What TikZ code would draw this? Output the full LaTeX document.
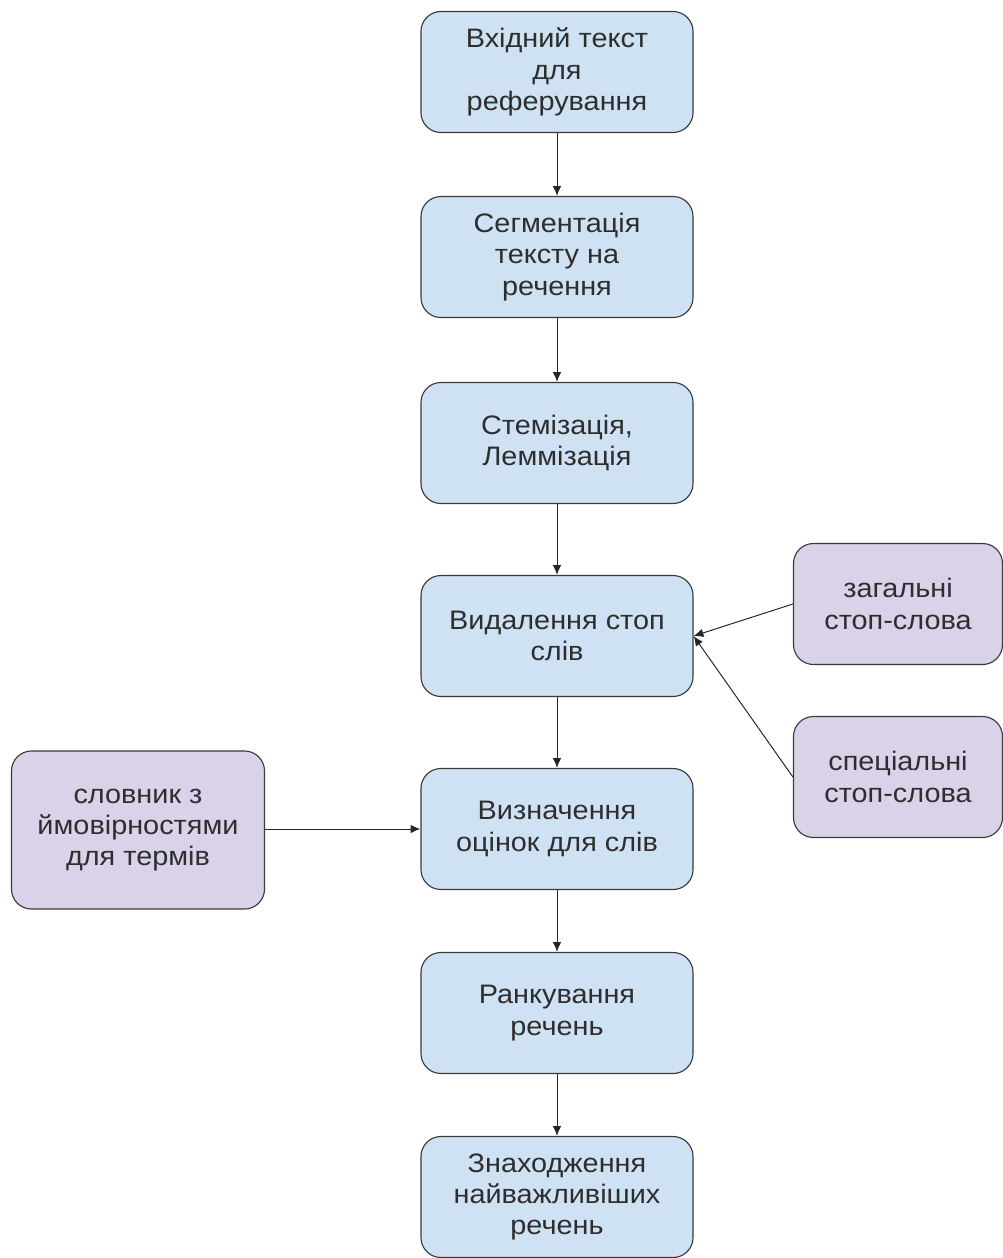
\documentclass[tikz,border=0pt]{standalone}
\usepackage{fontspec}
\setmainfont{Liberation Sans}[FakeStretch=1.08]
\usetikzlibrary{arrows.meta}

\definecolor{stepblue}{HTML}{CFE2F3}
\definecolor{srclilac}{HTML}{D9D2E9}
\definecolor{edgegray}{HTML}{3A3A3A}

\begin{document}
\begin{tikzpicture}[>={Latex[length=7pt,width=6pt]}, % small latex heads
  x=0.025cm, y=-0.025cm,
  stepbox/.style={draw=edgegray, line width=0.8pt, rounded corners=0.5cm,
    fill=stepblue, align=center, font=\fontsize{19}{22.3}\selectfont,
    minimum width=6.8cm, minimum height=3.025cm, text=black!82},
  srcbox/.style={stepbox, fill=srclilac},
  link/.style={->, line width=0.7pt, draw=black!85}]

  \useasboundingbox (0,0) rectangle (1003,1258);

  \node[stepbox](input) at (557,72) {Вхідний текст\\для\\реферування};
  \node[stepbox](segm) at (557,257) {Сегментація\\тексту на\\речення};
  \node[stepbox](stem) at (557,443) {Стемізація,\\Леммізація};
  \node[stepbox](stop) at (557,636) {Видалення стоп\\слів};
  \node[stepbox](score) at (557,829) {Визначення\\оцінок для слів};
  \node[stepbox](rank) at (557,1013) {Ранкування\\речень};
  \node[stepbox](find) at (557,1197) {Знаходження\\найважливіших\\речень};

  \node[srcbox, minimum width=5.225cm](general) at (898,604) {загальні\\стоп-слова};
  \node[srcbox, minimum width=5.225cm](special) at (898,777) {спеціальні\\стоп-слова};
  \node[srcbox, minimum width=6.325cm, minimum height=3.95cm](dict) at (138,830)
    {словник з\\ймовірностями\\для термів};

  \draw[link] (input) -- (segm);
  \draw[link] (segm) -- (stem);
  \draw[link] (stem) -- (stop);
  \draw[link] (stop) -- (score);
  \draw[link] (score) -- (rank);
  \draw[link] (rank) -- (find);

  \draw[link] (general.west) -- (stop.east);
  \draw[link] (special.west) -- (stop.east);
  \draw[link] (dict.east |- score.west) -- (score.west);

\end{tikzpicture}
\end{document}
